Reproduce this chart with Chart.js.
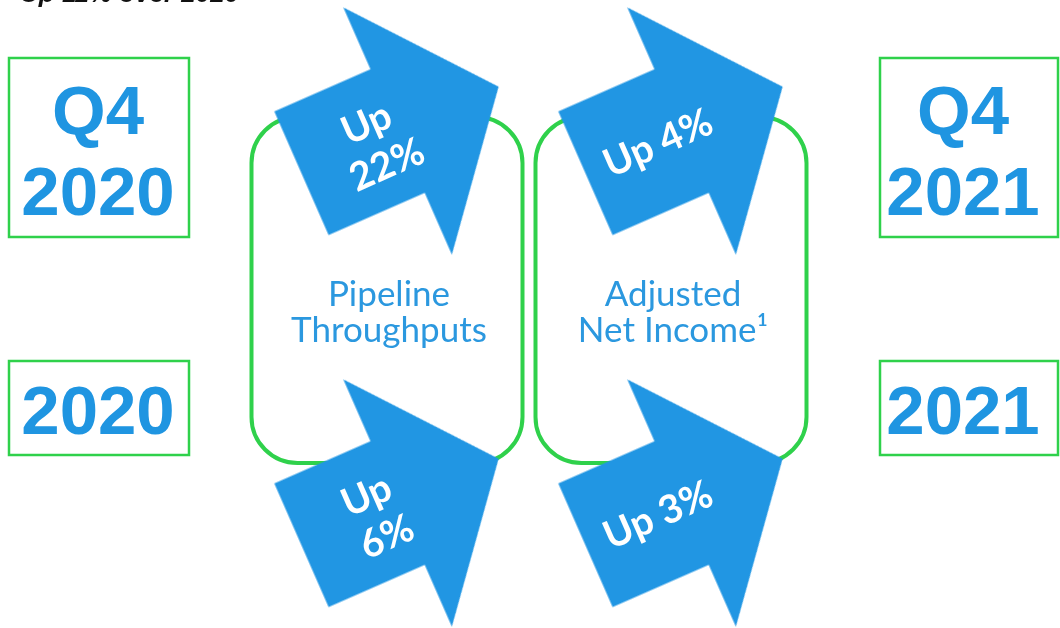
<!DOCTYPE html>
<html>
<head>
<meta charset="utf-8">
<script src="https://cdn.jsdelivr.net/npm/chart.js@4.4.1/dist/chart.umd.min.js"></script>
<style>
  html, body { margin: 0; padding: 0; background: #fff; }
  #wrap { position: relative; width: 1060px; height: 628px; overflow: hidden; }
</style>
</head>
<body>
<div id="wrap"><canvas id="growthChart" width="1060" height="628"></canvas></div>
<script>
// Data
const metrics = ['Pipeline Throughputs', 'Adjusted Net Income¹'];
const metricLines = [['Pipeline', 'Throughputs'], ['Adjusted', 'Net Income¹']];
const periods = ['Q4', 'Full year'];
const startLabels = [['Q4', '2020'], ['2020']];
const endLabels = [['Q4', '2021'], ['2021']];
const pipelineUp = [22, 6];   // % growth, Q4 and full year
const incomeUp = [4, 3];      // % growth, Q4 and full year
const headline = 'Up 11% over 2020';

const BLUE = '#2196e3';
const TEXT_BLUE = '#1f95e1';
const GREEN = '#2fd14b';
const ANGLE = -23.7; // arrow tilt, degrees

// arrow drawn once into an offscreen canvas, used as the point style
function makeArrow() {
  const c = document.createElement('canvas');
  c.width = 220; c.height = 276;
  const g = c.getContext('2d');
  g.translate(c.width / 2, c.height / 2);
  g.translate(-107.6, 0);
  g.fillStyle = BLUE;
  g.beginPath();
  g.moveTo(0, -67.5);
  g.lineTo(105, -67.5);
  g.lineTo(105, -135);
  g.lineTo(215.3, 0);
  g.lineTo(105, 135);
  g.lineTo(105, 67.5);
  g.lineTo(0, 67.5);
  g.closePath();
  g.fill();
  return c;
}
const arrow = makeArrow();

function roundRect(ctx, x, y, w, h, r) {
  ctx.beginPath();
  ctx.moveTo(x + r, y);
  ctx.lineTo(x + w - r, y);
  ctx.arcTo(x + w, y, x + w, y + r, r);
  ctx.lineTo(x + w, y + h - r);
  ctx.arcTo(x + w, y + h, x + w - r, y + h, r);
  ctx.lineTo(x + r, y + h);
  ctx.arcTo(x, y + h, x, y + h - r, r);
  ctx.lineTo(x, y + r);
  ctx.arcTo(x, y, x + r, y, r);
  ctx.closePath();
}

const slidePlugin = {
  id: 'slide',
  beforeDatasetsDraw(chart) {
    const ctx = chart.ctx;
    const xs = chart.scales.x;
    ctx.save();
    // metric frames behind the arrows
    ctx.strokeStyle = GREEN;
    ctx.lineWidth = 4;
    metrics.forEach((m, i) => {
      const cx = xs.getPixelForValue(i) - 13;
      roundRect(ctx, cx - 135.5, 117, 271, 346, 46);
      ctx.stroke();
    });
    // period boxes left and right
    ctx.lineWidth = 2.5;
    const boxes = [
      { x: 9, y: 58, w: 180, h: 179, lines: startLabels[0], cx: 98 },
      { x: 9, y: 361, w: 180, h: 94, lines: startLabels[1], cx: 98 },
      { x: 880, y: 58, w: 178, h: 179, lines: endLabels[0], cx: 963 },
      { x: 880, y: 361, w: 178, h: 94, lines: endLabels[1], cx: 963 }
    ];
    ctx.fillStyle = TEXT_BLUE;
    ctx.font = 'bold 69px "Liberation Sans", Arial, sans-serif';
    ctx.textAlign = 'center';
    ctx.textBaseline = 'alphabetic';
    boxes.forEach(b => {
      ctx.strokeRect(b.x, b.y, b.w, b.h);
      const base = b.lines.length === 2 ? [134, 215] : [b.y + 73];
      b.lines.forEach((t, k) => ctx.fillText(t, b.cx, base[k]));
    });
    // cut-off heading at the very top
    ctx.fillStyle = '#111';
    ctx.textAlign = 'left';
    ctx.font = 'italic bold 26px "Liberation Sans", Arial, sans-serif';
    ctx.fillText(headline, 20, 2);
    ctx.restore();
  },
  afterDatasetsDraw(chart) {
    const ctx = chart.ctx;
    const xs = chart.scales.x;
    ctx.save();
    // metric names inside the frames
    ctx.fillStyle = '#2b98df';
    ctx.font = '35px Lato, "Open Sans", sans-serif';
    ctx.textAlign = 'center';
    ctx.textBaseline = 'alphabetic';
    metricLines.forEach((lines, i) => {
      const cx = xs.getPixelForValue(i) - 11;
      ctx.fillText(lines[0], cx, 306);
      ctx.fillText(lines[1], cx, 342);
    });
    // growth labels on the arrows
    ctx.fillStyle = '#fff';
    ctx.font = 'bold 39px Lato, "Open Sans", sans-serif';
    ctx.textBaseline = 'middle';
    chart.data.datasets.forEach((ds, di) => {
      chart.getDatasetMeta(di).data.forEach((pt, j) => {
        const v = ds.values[j];
        ctx.save();
        ctx.translate(pt.x, pt.y);
        ctx.rotate(ANGLE * Math.PI / 180);
        if (ds.twoLines) {
          ctx.fillText('Up', -28, -19);
          ctx.fillText(v + '%', -26, 27);
        } else {
          ctx.fillText('Up ' + v + '%', -29, 2);
        }
        ctx.restore();
      });
    });
    ctx.restore();
  }
};

new Chart(document.getElementById('growthChart'), {
  type: 'scatter',
  data: {
    datasets: [
      {
        label: metrics[0],
        values: pipelineUp,
        twoLines: true,
        data: periods.map(p => ({ x: metrics[0], y: p })),
        pointStyle: arrow,
        rotation: ANGLE,
        clip: false
      },
      {
        label: metrics[1],
        values: incomeUp,
        twoLines: false,
        data: periods.map(p => ({ x: metrics[1], y: p })),
        pointStyle: arrow,
        rotation: ANGLE,
        clip: false
      }
    ]
  },
  options: {
    responsive: false,
    animation: false,
    layout: { padding: { left: 400, right: 376, top: 130, bottom: 126 } },
    plugins: {
      legend: { display: false },
      tooltip: { enabled: false }
    },
    scales: {
      x: { type: 'category', labels: metrics, offset: false, display: false },
      y: { type: 'category', labels: periods, offset: false, display: false }
    }
  },
  plugins: [slidePlugin]
});
</script>
</body>
</html>
